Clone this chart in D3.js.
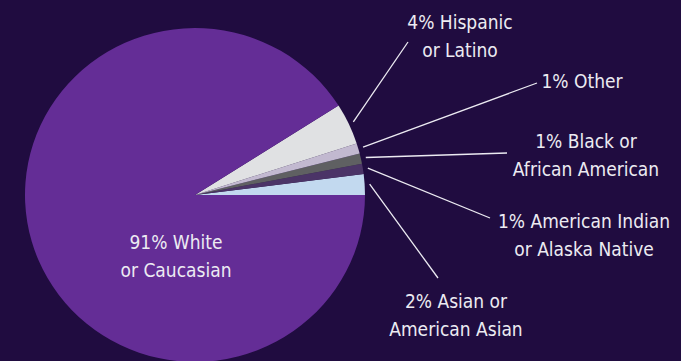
<!DOCTYPE html>
<html><head><meta charset="utf-8">
<script src="https://cdn.jsdelivr.net/npm/d3@7"></script>
<style>
html,body{margin:0;padding:0;background:#200c40;}
svg{display:block;}
text{font-family:"DejaVu Sans Condensed","DejaVu Sans",sans-serif;font-stretch:condensed;fill:#ecebf2;font-size:19px;}
</style></head><body>
<script>
// Data
const categories = ["Asian or American Asian","American Indian or Alaska Native","Black or African American","Other","Hispanic or Latino","White or Caucasian"];
const values = [2, 1, 1, 1, 4, 91];
const labelLines = [
  ["2% Asian or","American Asian"],
  ["1% American Indian","or Alaska Native"],
  ["1% Black or","African American"],
  ["1% Other"],
  ["4% Hispanic","or Latino"],
  ["91% White","or Caucasian"]
];
const colors = ["#c2d9ef","#4b3467","#5f6062","#c2b9d0","#e0e1e3","#642d96"];

// Layout
const W = 681, H = 361;
const cx = 195, cy = 195, R = 170, sy = 0.982;
const layout = [
  {end:[438,278], tx:456, ty:308},
  {end:[490,218], tx:584, ty:228},
  {end:[507,153], tx:586, ty:148},
  {end:[537,83],  tx:582, ty:88},
  {end:[408,42],  tx:460, ty:29},
  {end:null,      tx:176, ty:249}
];
const lineGap = 28;
const leaderR = 175;

const svg = d3.select("body").append("svg").attr("width",W).attr("height",H);
const g = svg.append("g").attr("transform",`translate(${cx},${cy}) scale(1,${sy})`);

const pie = d3.pie().sort(null).value(d=>d).startAngle(Math.PI/2).endAngle(Math.PI/2 - 2*Math.PI);
const arcs = pie(values);
const arc = d3.arc().innerRadius(0).outerRadius(R);

g.selectAll("path.slice").data(arcs).join("path")
  .attr("class","slice")
  .attr("d",arc)
  .attr("fill",(d,i)=>colors[i]);

const lead = d3.arc().innerRadius(leaderR).outerRadius(leaderR);
arcs.forEach((a,i)=>{
  const L = layout[i];
  if(L.end){
    const p = lead.centroid(a);
    svg.append("line")
      .attr("x1",cx+p[0]).attr("y1",cy+p[1]*sy)
      .attr("x2",L.end[0]).attr("y2",L.end[1])
      .attr("stroke","#ecebf2").attr("stroke-width",1.3);
  }
  const t = svg.append("text").attr("text-anchor","middle");
  labelLines[i].forEach((s,j)=>{
    t.append("tspan").attr("x",L.tx).attr("y",L.ty + j*lineGap).text(s);
  });
});
</script>
</body></html>
